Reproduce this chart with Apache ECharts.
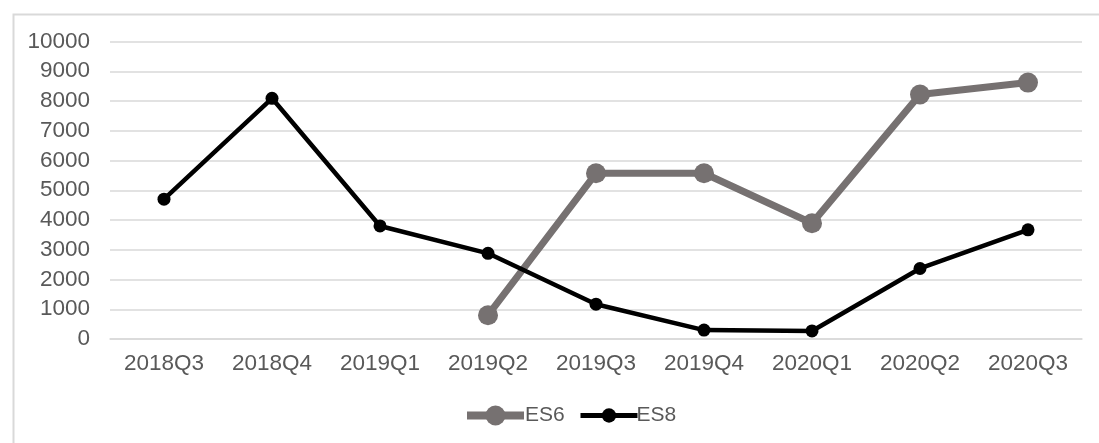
<!DOCTYPE html>
<html>
<head>
<meta charset="utf-8">
<script src="https://cdn.jsdelivr.net/npm/echarts@6/dist/echarts.min.js"></script>
<style>
html,body{margin:0;padding:0;background:#fff;}
#chart{width:1099px;height:443px;}
</style>
</head>
<body>
<div id="chart"></div>
<script>
const categories = ['2018Q3','2018Q4','2019Q1','2019Q2','2019Q3','2019Q4','2020Q1','2020Q2','2020Q3'];
const es6 = [null, null, null, 800, 5570, 5570, 3890, 8220, 8620];
const es8 = [4700, 8090, 3800, 2880, 1170, 300, 270, 2370, 3670];
const yTicks = {min: 0, max: 10000, interval: 1000};

const FONT = 'Liberation Sans';
const FS = 22.5;
const GREY = '#767171';
const chart = echarts.init(document.getElementById('chart'), null, {renderer: 'canvas'});
chart.setOption({
  animation: false,
  backgroundColor: '#fff',
  graphic: [{
    type: 'rect', left: 11, top: 12, silent: true, z: -1,
    shape: {width: 1200, height: 600},
    style: {fill: 'none', stroke: '#d9d9d9', lineWidth: 2}
  }],
  grid: {left: 110, right: 17, top: 41.5, bottom: 104, containLabel: false},
  legend: [
    {
      data: [{name: 'ES6', lineStyle: {width: 8, color: GREY}, itemStyle: {color: GREY}}],
      left: 458, top: 400,
      itemWidth: 57, itemHeight: 25,
      textStyle: {fontFamily: FONT, fontSize: 21, color: '#595959', padding: [0, 0, 0, -4]}
    },
    {
      data: [{name: 'ES8', lineStyle: {width: 5, color: '#000'}, itemStyle: {color: '#000'}}],
      left: 573, top: 400,
      itemWidth: 57, itemHeight: 18,
      textStyle: {fontFamily: FONT, fontSize: 21, color: '#595959', padding: [0, 0, 0, -6]}
    }
  ],
  xAxis: {
    type: 'category',
    data: categories,
    boundaryGap: true,
    axisLine: {show: true, lineStyle: {color: '#d9d9d9', width: 1.5}},
    axisTick: {show: false},
    axisLabel: {fontFamily: FONT, fontSize: FS, color: '#595959', margin: 13, interval: 0}
  },
  yAxis: {
    type: 'value',
    min: yTicks.min, max: yTicks.max, interval: yTicks.interval,
    axisLine: {show: false},
    axisTick: {show: false},
    splitLine: {lineStyle: {color: '#d9d9d9', width: 1.5}},
    axisLabel: {fontFamily: FONT, fontSize: FS, color: '#595959', margin: 20,
      formatter: v => String(v)}
  },
  series: [
    {
      name: 'ES6', type: 'line', data: es6,
      symbol: 'circle', symbolSize: 20,
      lineStyle: {color: GREY, width: 7},
      itemStyle: {color: GREY},
      connectNulls: false
    },
    {
      name: 'ES8', type: 'line', data: es8,
      symbol: 'circle', symbolSize: 13,
      lineStyle: {color: '#000000', width: 4.5},
      itemStyle: {color: '#000000'}
    }
  ]
});
</script>
</body>
</html>
